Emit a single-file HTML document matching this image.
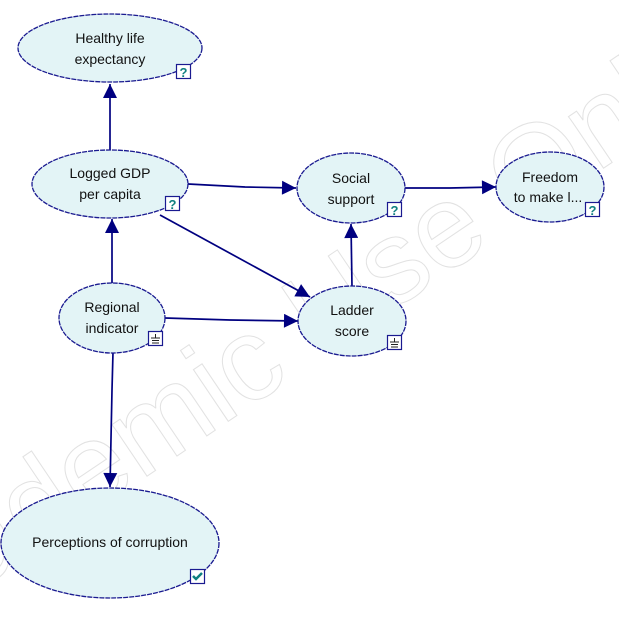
<!DOCTYPE html>
<html><head><meta charset="utf-8"><style>
html,body{margin:0;padding:0;background:#fff;width:619px;height:621px;overflow:hidden;}
svg{display:block;}
text{font-family:"Liberation Sans",sans-serif;}
</style></head><body>
<svg width="619" height="621" viewBox="0 0 619 621" xmlns="http://www.w3.org/2000/svg">
<defs>
<marker id="a" viewBox="0 0 10 10" refX="10" refY="5" markerWidth="17" markerHeight="14" markerUnits="userSpaceOnUse" orient="auto"><path d="M0,0 L10,5 L0,10 z" fill="#000080"/></marker>
</defs>
<g transform="translate(270,345) rotate(-34)">
<text x="0" y="40" text-anchor="middle" font-size="118" fill="none" stroke="#e2e2e2" stroke-width="1">Academic Use Only</text>
</g>
<g stroke="#000080" stroke-width="1.7" fill="none">
<line x1="110" y1="150" x2="110" y2="84" marker-end="url(#a)"/>
<line x1="112" y1="283" x2="112" y2="219" marker-end="url(#a)"/>
<polyline points="188,184 245,187 296,188" marker-end="url(#a)"/>
<line x1="160" y1="215" x2="310" y2="297" marker-end="url(#a)"/>
<polyline points="165,318 230,320 298,321" marker-end="url(#a)"/>
<line x1="352" y1="287" x2="351" y2="224" marker-end="url(#a)"/>
<polyline points="405,188 450,188 496,187" marker-end="url(#a)"/>
<polyline points="113,352 112,390 110,487" marker-end="url(#a)"/>
</g>
<g fill="#e3f4f6" stroke="#1a1a90" stroke-width="1.3" stroke-dasharray="5,1">
<ellipse cx="110" cy="48" rx="92" ry="34"/>
<ellipse cx="110" cy="184" rx="78" ry="34"/>
<ellipse cx="112" cy="318" rx="53" ry="35"/>
<ellipse cx="351" cy="188" rx="54" ry="35"/>
<ellipse cx="550" cy="187" rx="54" ry="35"/>
<ellipse cx="352" cy="321" rx="54" ry="35"/>
<ellipse cx="110" cy="543" rx="109" ry="55"/>
</g>
<g font-size="14" fill="#111" text-anchor="middle">
<text x="110" y="43">Healthy life</text><text x="110" y="64">expectancy</text>
<text x="110" y="178">Logged GDP</text><text x="110" y="199">per capita</text>
<text x="112" y="312">Regional</text><text x="112" y="333">indicator</text>
<text x="351" y="183">Social</text><text x="351" y="204">support</text>
<text x="550" y="182">Freedom</text><text x="548" y="202">to make l...</text>
<text x="352" y="315">Ladder</text><text x="352" y="336">score</text>
<text x="110" y="547">Perceptions of corruption</text>
</g>
<g stroke="#1a1a90" stroke-width="1.2" fill="#fff">
<rect x="176.5" y="64.5" width="14" height="14"/>
<rect x="165.5" y="196.5" width="14" height="14"/>
<rect x="387.5" y="202.5" width="14" height="14"/>
<rect x="585.5" y="202.5" width="14" height="14"/>
<rect x="148.5" y="331.5" width="14" height="14"/>
<rect x="387.5" y="335.5" width="14" height="14"/>
<rect x="190.5" y="569.5" width="14" height="14"/>
</g>
<g font-size="13" font-weight="bold" fill="#108080" text-anchor="middle">
<text x="183.5" y="77">?</text><text x="172.5" y="209">?</text>
<text x="394.5" y="215">?</text><text x="592.5" y="215">?</text>
</g>
<g stroke="#222" stroke-width="1">
<path d="M155.5 334v4M151 338h9M152 340.5h7M152 343h7"/>
<path d="M394.5 338v4M390 342h9M391 344.5h7M391 347h7"/>
</g>
<path d="M193 576 l3 3 l6 -6" stroke="#108080" stroke-width="2.5" fill="none"/>
</svg>
</body></html>
